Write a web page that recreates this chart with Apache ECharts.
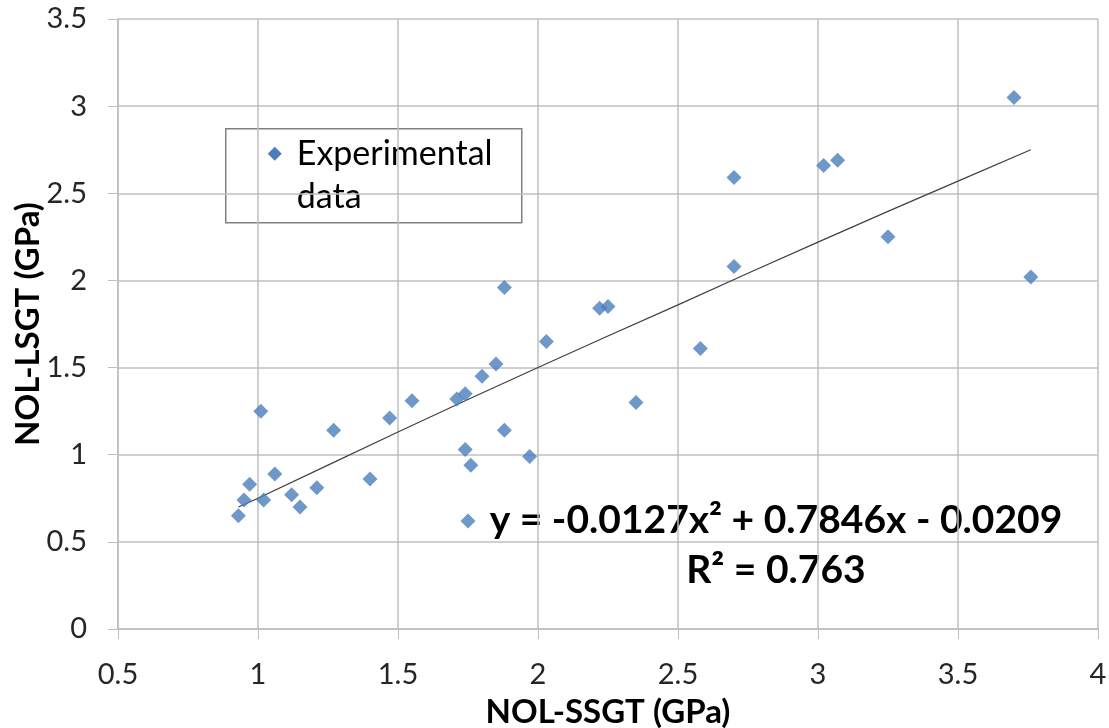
<!DOCTYPE html>
<html>
<head>
<meta charset="utf-8">
<script src="https://cdn.jsdelivr.net/npm/echarts@6/dist/echarts.min.js"></script>
<style>
    html, body { margin: 0; padding: 0; background: #fff; }
    #chart { width: 1109px; height: 728px; }
</style>
</head>
<body>
<div id="chart"></div>
<script>
// measured points, NOL-SSGT vs NOL-LSGT (GPa)
const ssgt = [
    0.93, 0.95, 0.97, 1.01, 1.02, 1.06, 1.12, 1.15, 1.21, 1.27,
    1.40, 1.47, 1.55, 1.71, 1.74, 1.80, 1.85, 1.88, 1.88, 1.74,
    1.76, 1.97, 1.75, 2.03, 2.22, 2.25, 2.35, 2.58, 2.70, 2.70,
    3.02, 3.07, 3.25, 3.70, 3.76,
];
const lsgt = [
    0.65, 0.74, 0.83, 1.25, 0.74, 0.89, 0.77, 0.70, 0.81, 1.14,
    0.86, 1.21, 1.31, 1.32, 1.35, 1.45, 1.52, 1.96, 1.14, 1.03,
    0.94, 0.99, 0.62, 1.65, 1.84, 1.85, 1.30, 1.61, 2.59, 2.08,
    2.66, 2.69, 2.25, 3.05, 2.02,
];

// trendline
const trendX = [0.93, 1.0, 1.5, 2.0, 2.5, 3.0, 3.5, 3.76];
const trendY = [0.70, 0.75, 1.13, 1.50, 1.86, 2.22, 2.57, 2.75];

const xTicks = [0.5, 4, 0.5]; // min, max, step
const yTicks = [0, 3.5, 0.5];

const FONT = "Lato, 'Open Sans', sans-serif";
const gray = "#bfbfbf";

let chartDom = document.getElementById("chart");
let myChart = echarts.init(chartDom);

let points = ssgt.map((x, i) => [x, lsgt[i]]);
let trend = trendX.map((x, i) => [x, trendY[i]]);

const axisCommon = {
    type: "value",
    nameMoveOverlap: false,
    axisLine: { show: true, lineStyle: { color: gray, width: 1.5 } },
    axisTick: { show: true, length: 10, lineStyle: { color: gray } },
    splitLine: { show: true, lineStyle: { color: gray, width: 1.5 } },
    nameTextStyle: { fontFamily: FONT, fontSize: 33, fontWeight: "bold", color: "#000" },
};

let option = {
    animation: false,
    grid: {
        left: 118, right: 11, top: 19, bottom: 99,
        containLabel: false,
        outerBoundsMode: "none",
    },
    xAxis: {
        ...axisCommon,
        min: xTicks[0],
        max: xTicks[1],
        interval: xTicks[2],
        name: "NOL-SSGT (GPa)",
        nameLocation: "middle",
        nameGap: 67,
        axisLabel: { fontFamily: FONT, fontSize: 29, color: "#262626", margin: 31 },
    },
    yAxis: {
        ...axisCommon,
        min: yTicks[0],
        max: yTicks[1],
        interval: yTicks[2],
        name: "NOL-LSGT (GPa)",
        nameLocation: "middle",
        nameGap: 73,
        axisLabel: { fontFamily: FONT, fontSize: 29, color: "#262626", margin: 31 },
    },
    series: [
        {
            name: "Experimental data",
            type: "scatter",
            symbol: "diamond",
            symbolSize: 15,
            itemStyle: { color: "#4a7ebb" },
            data: points,
            z: 5,
        },
        {
            name: "trend",
            type: "line",
            smooth: true,
            showSymbol: false,
            lineStyle: { color: "#404040", width: 1.2 },
            data: trend,
            z: 4,
        },
    ],
    graphic: [
        // legend box
        {
            type: "group",
            left: 225,
            top: 128,
            z: 10,
            children: [
                {
                    type: "rect",
                    shape: { x: 0, y: 0, width: 296, height: 94 },
                    style: { fill: "#fff", stroke: "#808080", lineWidth: 1.5 },
                },
                {
                    type: "polygon",
                    shape: { points: [[49, 18], [56, 25], [49, 32], [42, 25]] },
                    style: { fill: "#4a7ebb" },
                },
                {
                    type: "text",
                    x: 71, y: 25,
                    style: {
                        text: "Experimental",
                        font: "34px " + FONT,
                        fill: "#000",
                        verticalAlign: "middle",
                    },
                },
                {
                    type: "text",
                    x: 71, y: 68,
                    style: {
                        text: "data",
                        font: "34px " + FONT,
                        fill: "#000",
                        verticalAlign: "middle",
                    },
                },
            ],
        },
        // trendline equation box
        {
            type: "group",
            left: 480,
            top: 484,
            z: 10,
            children: [
                {
                    type: "rect",
                    shape: { x: 0, y: 0, width: 593, height: 114 },
                    style: { fill: "#fff" },
                },
                {
                    type: "text",
                    x: 296, y: 36,
                    style: {
                        text: "y = -0.0127x² + 0.7846x - 0.0209",
                        font: "bold 39px " + FONT,
                        fill: "#000",
                        align: "center",
                        verticalAlign: "middle",
                    },
                },
                {
                    type: "text",
                    x: 296, y: 86,
                    style: {
                        text: "R² = 0.763",
                        font: "bold 39px " + FONT,
                        fill: "#000",
                        align: "center",
                        verticalAlign: "middle",
                    },
                },
            ],
        },
    ],
};

option && myChart.setOption(option);
</script>
</body>
</html>
